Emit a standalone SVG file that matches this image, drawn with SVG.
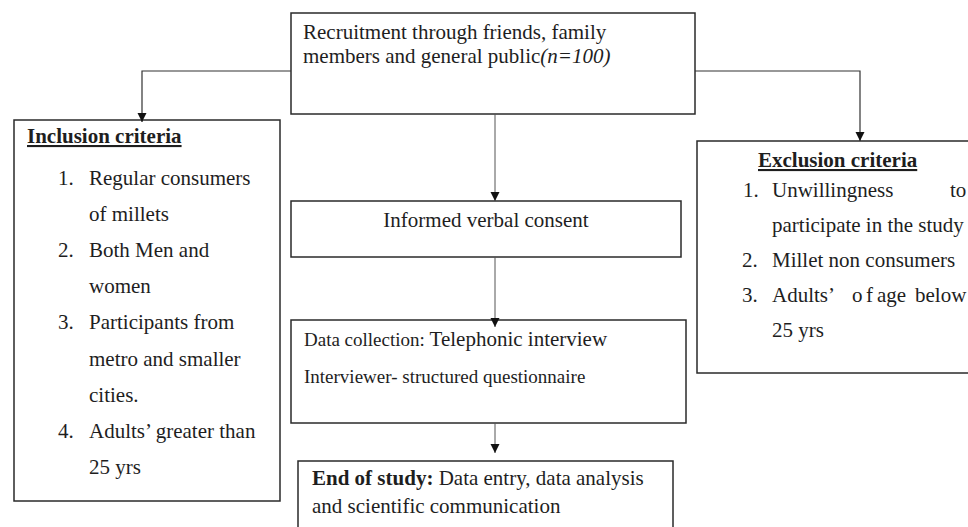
<svg xmlns="http://www.w3.org/2000/svg" width="968" height="527" viewBox="0 0 968 527">
<style>
  .box { fill: #ffffff; stroke: #2a2a2a; stroke-width: 1.5; }
  .t { font-family: "Liberation Serif", "Times New Roman", serif; font-size: 21px; fill: #1e1e1e; }
  .s { font-size: 19px; }
  .b { font-weight: bold; }
  .u { text-decoration: underline; }
  .i { font-style: italic; }
  .conn { fill: none; stroke: #555; stroke-width: 1; }
  .conn-dark { fill: none; stroke: #333; stroke-width: 1.2; }
</style>
<defs>
  <marker id="arrow" markerUnits="userSpaceOnUse" markerWidth="10" markerHeight="10" refX="9" refY="4.5" orient="auto">
    <path d="M0,0 L9,4.5 L0,9 Z" fill="#111"/>
  </marker>
</defs>

<rect width="968" height="527" fill="#ffffff"/>

<g id="recruitment">
  <rect class="box" x="291" y="13" width="404" height="101"/>
  <text class="t" x="303" y="39">Recruitment through friends, family</text>
  <text class="t" x="303" y="63">members and general public<tspan class="i">(n=100)</tspan></text>
</g>

<g id="inclusion">
  <rect class="box" x="14" y="120" width="266" height="381"/>
  <text class="t b u" x="27" y="143">Inclusion criteria</text>
  <text class="t" y="185"><tspan x="58">1.</tspan> <tspan x="89">Regular consumers</tspan></text>
  <text class="t" x="89" y="221">of millets</text>
  <text class="t" y="257"><tspan x="58">2.</tspan> <tspan x="89">Both Men and</tspan></text>
  <text class="t" x="89" y="293">women</text>
  <text class="t" y="329"><tspan x="58">3.</tspan> <tspan x="89">Participants from</tspan></text>
  <text class="t" x="89" y="366">metro and smaller</text>
  <text class="t" x="89" y="402">cities.</text>
  <text class="t" y="438"><tspan x="58">4.</tspan> <tspan x="89">Adults’ greater than</tspan></text>
  <text class="t" x="89" y="474">25 yrs</text>
</g>

<g id="exclusion">
  <rect class="box" x="697" y="141" width="290" height="232"/>
  <text class="t b u" x="758" y="167">Exclusion criteria</text>
  <text class="t" y="197"><tspan x="743">1.</tspan> <tspan x="772">Unwillingness </tspan><tspan x="950">to</tspan></text>
  <text class="t" x="772" y="232">participate in the study</text>
  <text class="t" y="267"><tspan x="742">2.</tspan> <tspan x="772">Millet non consumers</tspan></text>
  <text class="t" y="302"><tspan x="742">3.</tspan> <tspan x="772">Adults’ </tspan><tspan x="852">o</tspan><tspan x="866">f </tspan><tspan x="877">age </tspan><tspan x="915">below</tspan></text>
  <text class="t" x="772" y="337">25 yrs</text>
</g>

<g id="consent">
  <rect class="box" x="291" y="201" width="390" height="56"/>
  <text class="t" x="486" y="227" text-anchor="middle">Informed verbal consent</text>
</g>

<g id="data-collection">
  <rect class="box" x="291" y="320" width="395" height="103"/>
  <text class="t" x="304" y="346"><tspan class="s">Data collection: </tspan>Telephonic interview</text>
  <text class="t s" x="304" y="383">Interviewer- structured questionnaire</text>
</g>

<g id="end-of-study">
  <rect class="box" x="298" y="461" width="375" height="80"/>
  <text class="t" x="312" y="485"><tspan class="b">End of study:</tspan> Data entry, data analysis</text>
  <text class="t" x="312" y="513">and scientific communication</text>
</g>

<g id="connectors">
  <path class="conn-dark" d="M291,71 H142 V122" marker-end="url(#arrow)"/>
  <path class="conn-dark" d="M695,71 H860 V141" marker-end="url(#arrow)"/>
  <path class="conn" d="M495,114 V201" marker-end="url(#arrow)"/>
  <path class="conn" d="M495,257 V327" marker-end="url(#arrow)"/>
  <path class="conn" d="M495,423 V453" marker-end="url(#arrow)"/>
</g>
</svg>
